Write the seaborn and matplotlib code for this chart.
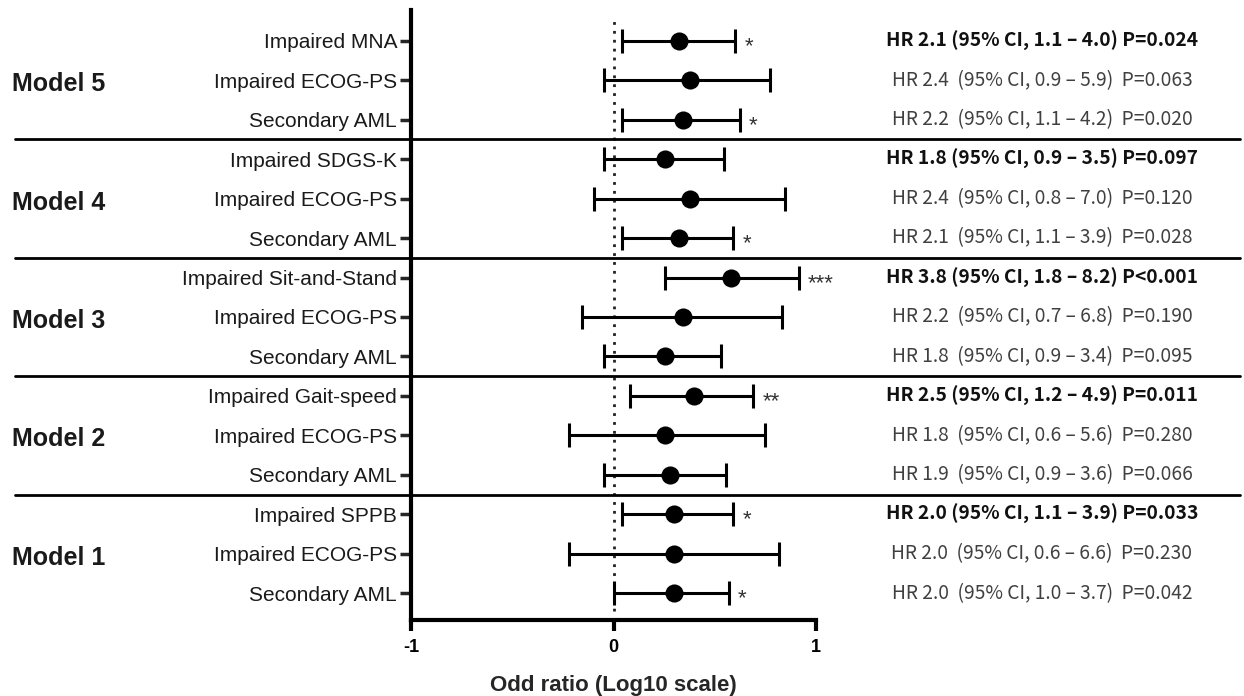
import numpy as np
import pandas as pd
import matplotlib
matplotlib.use("Agg")
import matplotlib.pyplot as plt
import matplotlib.transforms as mtransforms
import seaborn as sns

# ---------------- data ----------------
models = ["Model 5", "Model 4", "Model 3", "Model 2", "Model 1"]
variables = [
    "Impaired MNA", "Impaired ECOG-PS", "Secondary AML",
    "Impaired SDGS-K", "Impaired ECOG-PS", "Secondary AML",
    "Impaired Sit-and-Stand", "Impaired ECOG-PS", "Secondary AML",
    "Impaired Gait-speed", "Impaired ECOG-PS", "Secondary AML",
    "Impaired SPPB", "Impaired ECOG-PS", "Secondary AML",
]
hr = [2.1, 2.4, 2.2, 1.8, 2.4, 2.1, 3.8, 2.2, 1.8, 2.5, 1.8, 1.9, 2.0, 2.0, 2.0]
ci_low = [1.1, 0.9, 1.1, 0.9, 0.8, 1.1, 1.8, 0.7, 0.9, 1.2, 0.6, 0.9, 1.1, 0.6, 1.0]
ci_high = [4.0, 5.9, 4.2, 3.5, 7.0, 3.9, 8.2, 6.8, 3.4, 4.9, 5.6, 3.6, 3.9, 6.6, 3.7]
p_text = ["0.024", "0.063", "0.020", "0.097", "0.120", "0.028", "<0.001", "0.190",
          "0.095", "0.011", "0.280", "0.066", "0.033", "0.230", "0.042"]
stars = ["*", "", "*", "", "", "*", "***", "", "", "**", "", "", "*", "", "*"]
bold_rows = [0, 3, 6, 9, 12]
x_ticks = [-1, 0, 1]

df = pd.DataFrame({
    "var": variables, "hr": hr, "lo": ci_low, "hi": ci_high,
    "p": p_text, "star": stars,
})
df["row"] = np.arange(len(df))
df["lhr"] = np.log10(df["hr"])
df["llo"] = np.log10(df["lo"])
df["lhi"] = np.log10(df["hi"])

# ---------------- style ----------------
sns.set_theme(style="ticks")
plt.rcParams["font.family"] = ["Liberation Sans", "DejaVu Sans"]

W, H = 1244, 696
fig = plt.figure(figsize=(W / 100, H / 100), dpi=100)
ax = fig.add_axes([411 / W, 1 - 620 / H, 405 / W, 610 / H])

# error bars
ax.errorbar(df["lhr"], df["row"],
            xerr=[df["lhr"] - df["llo"], df["lhi"] - df["lhr"]],
            fmt="none", ecolor="black", elinewidth=2.2, capsize=8.5,
            capthick=2.2, zorder=2)
sns.scatterplot(data=df, x="lhr", y="row", s=170, color="black",
                edgecolor="black", linewidth=0, zorder=3, ax=ax, legend=False)

# reference line
ax.axvline(0, ymin=0.015, ymax=0.99, color="#222222", lw=2,
           ls=(0, (1, 2.2)), zorder=1)

ax.set_xlim(-1, 1)
ax.set_ylim(len(df) - 1 + 0.68, -0.78)
ax.set_xticks(x_ticks)
ax.set_xticklabels([str(t) for t in x_ticks], fontsize=13, fontweight="bold")
ax.set_yticks(df["row"])
ax.set_yticklabels(df["var"], fontsize=15, color="#1a1a1a")
ax.set_xlabel("Odd ratio (Log10 scale)", fontsize=16, fontweight="bold",
              labelpad=13)
ax.set_ylabel("")
ax.tick_params(axis="x", length=8, width=3, direction="out", pad=6, colors="black")
ax.tick_params(axis="y", length=8, width=2.5, direction="out", pad=2)
for t in ax.get_yticklabels():
    t.set_color("#1a1a1a")
sns.despine(ax=ax)
for s in ["left", "bottom"]:
    ax.spines[s].set_linewidth(3)
    ax.spines[s].set_color("black")

# separators
trans = mtransforms.blended_transform_factory(ax.transAxes, ax.transData)
for yb in [2.5, 5.5, 8.5, 11.5]:
    ax.plot([-0.978, 2.047], [yb, yb], transform=trans, color="black",
            lw=2, clip_on=False, zorder=1)

# model labels
for i, m in enumerate(models):
    ax.text(-0.985, 3 * i + 1.1, m, transform=trans, ha="left", va="center",
            fontsize=18, fontweight="bold", color="#1a1a1a")

# stars
for _, r in df.iterrows():
    if r["star"]:
        ax.text(r["lhi"] + 0.045, r["row"] + 0.15, r["star"], ha="left",
                va="center", fontsize=16, color="#333333")

# HR text
for _, r in df.iterrows():
    i = int(r["row"])
    if i in bold_rows:
        s = f"HR {r['hr']:.1f} (95% CI, {r['lo']:.1f} – {r['hi']:.1f}) P{'' if r['p'].startswith('<') else '='}{r['p']}"
        ax.text(1.558, i, s, transform=trans, ha="center", va="center",
                fontsize=13.8, fontweight="bold", color="#111111",
                family=["Noto Sans CJK KR", "DejaVu Sans"])
    else:
        s = f"HR {r['hr']:.1f}  (95% CI, {r['lo']:.1f} – {r['hi']:.1f})  P={r['p']}"
        ax.text(1.558, i, s, transform=trans, ha="center", va="center",
                fontsize=13.8, color="#404040",
                family=["Noto Sans CJK KR", "DejaVu Sans"])

fig.savefig("out.png", dpi=100)
